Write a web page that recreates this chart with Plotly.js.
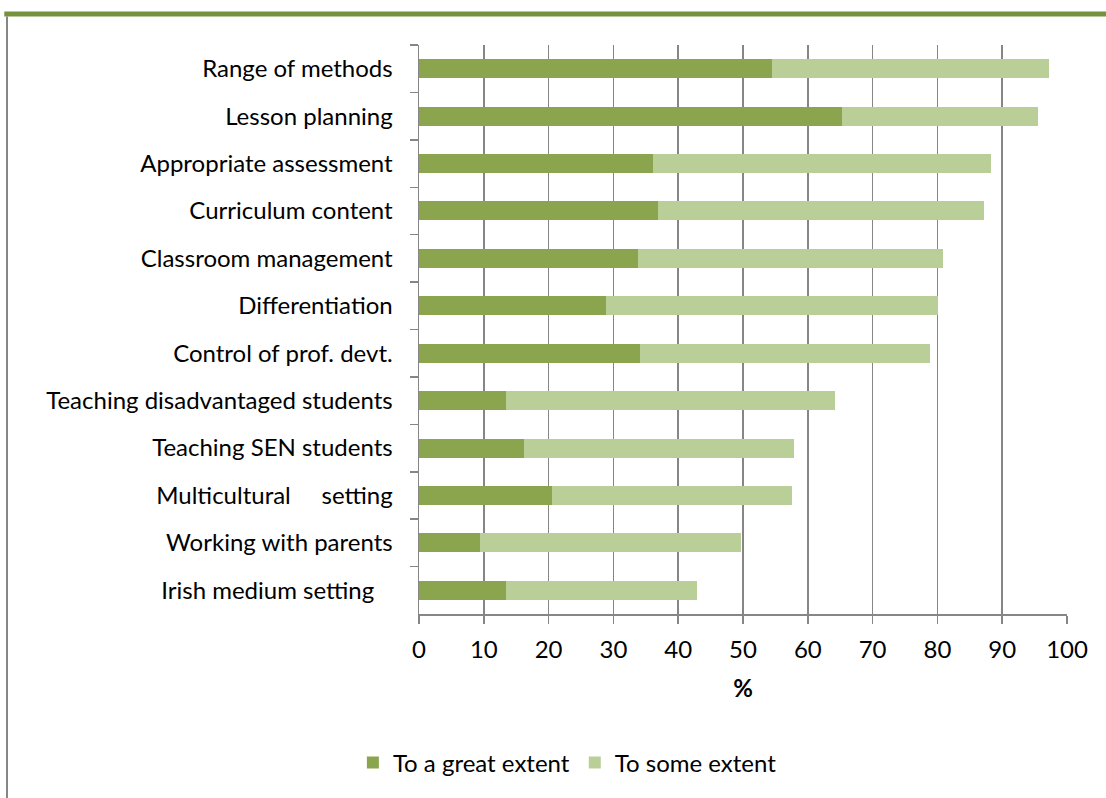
<!DOCTYPE html>
<html>
<head>
<meta charset="utf-8">
<script src="https://cdn.plot.ly/plotly-3.0.1.min.js"></script>
<style>
html,body{margin:0;padding:0;background:#fff;}
#chart{width:1106px;height:798px;}
</style>
</head>
<body>
<div id="chart"></div>
<script>
const categories = [
  "Range of methods",
  "Lesson planning",
  "Appropriate assessment",
  "Curriculum content",
  "Classroom management",
  "Differentiation",
  "Control of prof. devt.",
  "Teaching disadvantaged students",
  "Teaching SEN students",
  "Multicultural\u00a0\u00a0\u00a0\u00a0 setting",
  "Working with parents",
  "Irish medium setting\u00a0\u00a0\u00a0"
];
const greatExtent = [54.5, 65.3, 36.1, 36.9, 33.8, 28.9, 34.1, 13.4, 16.2, 20.5, 9.4, 13.4];
const totalAny   = [97.2, 95.5, 88.3, 87.2, 80.9, 80.1, 78.9, 64.2, 57.9, 57.6, 49.7, 42.9];
const someExtent = totalAny.map((t, i) => +(t - greatExtent[i]).toFixed(1));
const seriesNames = ["To a great extent", "To some extent"];
const xTicks = [0, 10, 20, 30, 40, 50, 60, 70, 80, 90, 100];

const font = "Lato, 'Open Sans', sans-serif";
const gridCol = "#868686";
const fs = 24;

const traces = [
  {type: "bar", orientation: "h", name: seriesNames[0], y: categories, x: greatExtent,
   marker: {color: "#8aa54e"}, hoverinfo: "x+name"},
  {type: "bar", orientation: "h", name: seriesNames[1], y: categories, x: someExtent,
   marker: {color: "#b9cf97"}, hoverinfo: "x+name"}
];

const layout = {
  width: 1106, height: 798,
  margin: {l: 419, r: 39, t: 45, b: 184},
  barmode: "stack",
  bargap: 0.6,
  paper_bgcolor: "#fff", plot_bgcolor: "#fff",
  font: {family: font, size: fs, color: "#000"},
  xaxis: {
    range: [0, 100], tickvals: xTicks, ticktext: xTicks.map(String),
    showgrid: true, gridcolor: gridCol, gridwidth: 1.5,
    showline: true, linecolor: gridCol, linewidth: 1.5,
    ticks: "outside", ticklen: 8, tickcolor: gridCol, tickwidth: 1.5,
    ticklabelstandoff: 6,
    zeroline: false, fixedrange: true,
    tickfont: {family: font, size: fs},
    title: {text: "<b>%</b>", font: {family: font, size: fs}, standoff: 18}
  },
  yaxis: {
    type: "category", autorange: "reversed",
    showgrid: false, showline: true, linecolor: gridCol, linewidth: 1.5,
    ticks: "outside", tickson: "boundaries", ticklen: 8, tickcolor: gridCol, tickwidth: 1.5,
    ticklabelstandoff: 20,
    tickfont: {family: font, size: fs}, fixedrange: true
  },
  showlegend: true,
  legend: {
    orientation: "h", xref: "container", yref: "container",
    x: 0.513, xanchor: "center", y: 0.044, yanchor: "middle",
    font: {family: font, size: fs}, traceorder: "normal",
    itemwidth: 30
  },
  shapes: [
    {type: "line", xref: "paper", yref: "paper", x0: -0.640, x1: 1.062, y0: 1.0545, y1: 1.0545,
     line: {color: "#76923c", width: 5}},
    {type: "line", xref: "paper", yref: "paper", x0: -0.6358, x1: -0.6358, y0: 1.05, y1: -0.33,
     line: {color: "#868686", width: 2}}
  ]
};

Plotly.newPlot("chart", traces, layout, {displayModeBar: false, staticPlot: true});
</script>
</body>
</html>
